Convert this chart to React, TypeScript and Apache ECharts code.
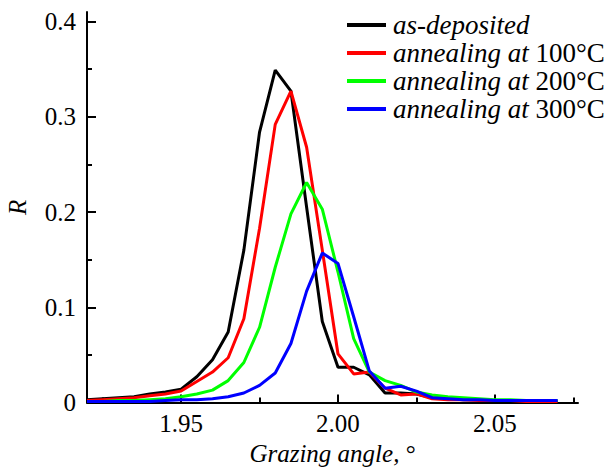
import React, { useEffect, useRef } from "react";
import * as echarts from "echarts";

const X_VALUES = [
  1.92, 1.925, 1.93, 1.935, 1.94, 1.945, 1.95, 1.955, 1.96, 1.965, 1.97, 1.975,
  1.98, 1.985, 1.99, 1.995, 2.0, 2.005, 2.01, 2.015, 2.02, 2.025, 2.03, 2.035,
  2.04, 2.045, 2.05, 2.055, 2.06, 2.065, 2.07,
];

const AS_DEPOSITED = [
  0.003, 0.004, 0.005, 0.006, 0.009, 0.011, 0.014, 0.027, 0.045, 0.074, 0.16,
  0.284, 0.349, 0.327, 0.205, 0.085, 0.037, 0.037, 0.029, 0.01, 0.01, 0.009,
  0.005, 0.004, 0.003, 0.003, 0.002, 0.002, 0.002, 0.001, 0.001,
];
const ANNEAL_100 = [
  0.002, 0.003, 0.004, 0.005, 0.007, 0.009, 0.012, 0.022, 0.032, 0.047, 0.088,
  0.183, 0.292, 0.327, 0.268, 0.16, 0.051, 0.03, 0.032, 0.015, 0.008, 0.009,
  0.004, 0.003, 0.003, 0.002, 0.002, 0.002, 0.001, 0.001, 0.001,
];
const ANNEAL_200 = [
  0.001, 0.001, 0.002, 0.002, 0.003, 0.004, 0.006, 0.009, 0.013, 0.023, 0.042,
  0.079, 0.142, 0.198, 0.231, 0.203, 0.137, 0.067, 0.032, 0.023, 0.018, 0.011,
  0.008, 0.006, 0.005, 0.004, 0.003, 0.003, 0.002, 0.002, 0.002,
];
const ANNEAL_300 = [
  0.001, 0.001, 0.001, 0.001, 0.001, 0.002, 0.003, 0.003, 0.004, 0.006, 0.01,
  0.018, 0.031, 0.062, 0.117, 0.157, 0.146, 0.09, 0.033, 0.015, 0.017, 0.012,
  0.005, 0.004, 0.003, 0.003, 0.002, 0.002, 0.002, 0.002, 0.002,
];

const SERIES_NAMES = [
  "as-deposited",
  "annealing at 100°C",
  "annealing at 200°C",
  "annealing at 300°C",
];
const SERIES_COLORS = ["#000000", "#ff0000", "#00ff00", "#0000ff"];
const SERIES_DATA = [AS_DEPOSITED, ANNEAL_100, ANNEAL_200, ANNEAL_300];

const X_MAJOR = [1.95, 2.0, 2.05];
const X_MINOR = [1.925, 1.975, 2.025, 2.075];
const Y_MAJOR = [0, 0.1, 0.2, 0.3, 0.4];
const Y_MINOR = [0.05, 0.15, 0.25, 0.35];

const FONT = "'Liberation Serif', 'Times New Roman', serif";

export default function App() {
  const ref = useRef<HTMLDivElement>(null);
  useEffect(() => {
    if (!ref.current) return;
    const chart = echarts.init(ref.current, null, { renderer: "svg" });
    const tickStyle = { color: "#000", width: 2 };
    const labelStyle = { fontSize: 25, fontFamily: FONT, color: "#000" };
    const xCommon = { type: "value" as const, min: 1.92, max: 2.0765, position: "bottom" as const, splitLine: { show: false } };
    const yCommon = { type: "value" as const, min: 0, max: 0.41, position: "left" as const, splitLine: { show: false } };
    chart.setOption({
      animation: false,
      backgroundColor: "#fff",
      grid: { left: 87, right: 26, top: 12, bottom: 67.5, containLabel: false, outerBoundsMode: "none" },
      legend: {
        orient: "vertical",
        left: 347,
        top: 11,
        padding: 0,
        itemGap: 0,
        itemWidth: 39,
        itemHeight: 4,
        icon: "rect",
        data: SERIES_NAMES,
        formatter: (name: string) =>
          name.startsWith("annealing at ")
            ? `{i|annealing at} {n|${name.slice(13)}}`
            : `{i|${name}}`,
        textStyle: {
          fontSize: 27,
          fontFamily: FONT,
          color: "#000",
          lineHeight: 28,
          padding: [0, 0, 0, 2],
          rich: {
            i: { fontSize: 27, fontFamily: FONT, fontStyle: "italic", color: "#000", lineHeight: 28 },
            n: { fontSize: 27, fontFamily: FONT, color: "#000", lineHeight: 28 },
          },
        },
      },
      xAxis: [
        {
          ...xCommon,
          axisLine: { show: true, lineStyle: tickStyle },
          axisTick: { show: true, inside: true, length: 8, lineStyle: tickStyle, customValues: X_MAJOR },
          axisLabel: { ...labelStyle, margin: 8, customValues: X_MAJOR, formatter: (v: number) => v.toFixed(2) },
          name: "{i|Grazing angle,} {n|°}",
          nameLocation: "middle",
          nameGap: 38,
          nameTextStyle: {
            fontSize: 25,
            fontFamily: FONT,
            color: "#000",
            rich: {
              i: { fontSize: 25, fontFamily: FONT, fontStyle: "italic", color: "#000" },
              n: { fontSize: 25, fontFamily: FONT, color: "#000" },
            },
          },
        },
        {
          ...xCommon,
          axisLine: { show: false },
          axisTick: { show: true, inside: true, length: 5, lineStyle: tickStyle, customValues: X_MINOR },
          axisLabel: { show: false },
        },
      ],
      yAxis: [
        {
          ...yCommon,
          axisLine: { show: true, lineStyle: tickStyle },
          axisTick: { show: true, inside: true, length: 9, lineStyle: tickStyle, customValues: Y_MAJOR },
          axisLabel: { ...labelStyle, margin: 11, customValues: Y_MAJOR },
          name: "R",
          nameLocation: "middle",
          nameGap: 57,
          nameTextStyle: { fontSize: 25, fontFamily: FONT, fontStyle: "italic", color: "#000" },
        },
        {
          ...yCommon,
          axisLine: { show: false },
          axisTick: { show: true, inside: true, length: 5, lineStyle: tickStyle, customValues: Y_MINOR },
          axisLabel: { show: false },
        },
      ],
      series: SERIES_NAMES.map((name, i) => ({
        name,
        type: "line",
        xAxisIndex: 0,
        yAxisIndex: 0,
        showSymbol: false,
        symbol: "none",
        color: SERIES_COLORS[i],
        lineStyle: { width: 3, color: SERIES_COLORS[i] },
        data: X_VALUES.map((x, j) => [x, SERIES_DATA[i][j]]),
      })),
    });
    return () => chart.dispose();
  }, []);
  return <div ref={ref} style={{ width: 604, height: 470, position: "absolute", left: 0, top: 0 }} />;
}
